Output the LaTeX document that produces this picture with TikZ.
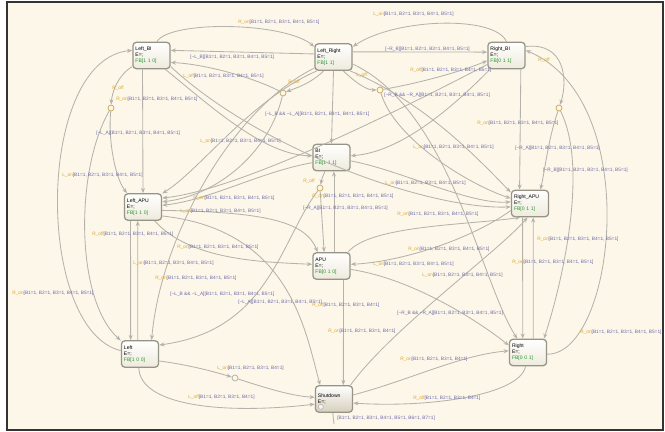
\documentclass[tikz,border=0pt]{standalone}
\usepackage{fontspec}
\setmainfont{Liberation Sans}
\usepackage{tikz}
\usetikzlibrary{arrows.meta, positioning, calc}

\definecolor{paper}{RGB}{253,247,233}
\definecolor{wire}{RGB}{180,178,170}
\definecolor{evt}{RGB}{222,165,40}
\definecolor{cond}{RGB}{105,105,170}
\definecolor{fbk}{RGB}{40,150,40}
\definecolor{edge}{RGB}{150,148,135}
\definecolor{stlow}{RGB}{238,234,220}
\definecolor{sdlow}{RGB}{214,207,188}

\newcommand{\nt}{\textasciitilde}
\newcommand{\bset}{[B1=1, B2=1, B3=1, B4=1, B5=1]}
\newcommand{\bfour}{[B1=1, B2=1, B3=1, B4=1]}
\newcommand{\bseven}{[B1=1, B2=1, B3=1, B4=1, B5=1, B6=1, B7=1]}
\newcommand{\tlab}[2]{\textcolor{evt}{#1}\textcolor{cond}{#2}}

\begin{document}
\begin{tikzpicture}[
    x=0.025cm, y=-0.025cm,
    state/.style={
        rectangle, draw=edge, line width=0.9pt, rounded corners=2.5pt,
        minimum width=0.93cm, minimum height=0.66cm, text width=0.8cm,
        inner xsep=0.065cm, inner ysep=0pt, align=left,
        top color=white, bottom color=stlow,
        font=\fontsize{3.6}{4.3}\selectfont
    },
    trans/.style={draw=wire, line width=0.6pt, -{Stealth[length=1.3mm, width=1mm]}},
    tl/.style={anchor=west, inner sep=0pt, font=\fontsize{3.4}{4}\selectfont},
    junc/.style={circle, draw=evt!60!wire, line width=0.55pt, fill=paper, minimum size=0.15cm, inner sep=0pt},
]
\useasboundingbox (0,0) rectangle (665,432);
\fill[white] (0,0) rectangle (665,432);
\fill[paper] (7,2) rectangle (663,430);
\draw[black!80, line width=0.8pt] (7,2) rectangle (663,430);

% Row 1: bus tie states
\node[state] (lbi) at (151.5,55.5) {Left\_BI\\E=;\\\textcolor{fbk}{FB[1 1 0]}};
\node[state] (lr)  at (333.5,57)   {Left\_Right\\E=;\\\textcolor{fbk}{FB[1 1]}};
\node[state] (rbi) at (506.5,55.5) {Right\_BI\\E=;\\\textcolor{fbk}{FB[0 1 1]}};

% Row 2: middle
\node[state] (bi)   at (331.5,157.5) {BI\\E=;\\\textcolor{fbk}{FB[1 1 1]}};
\node[state] (lapu) at (143,207)     {Left\_APU\\E=;\\\textcolor{fbk}{FB[1 1 0]}};
\node[state] (rapu) at (530,203.5)   {Right\_APU\\E=;\\\textcolor{fbk}{FB[0 1 1]}};
\node[state] (apu)  at (331.5,266)   {APU\\E=;\\\textcolor{fbk}{FB[0 1 0]}};

% Row 3: single sources and shutdown
\node[state] (l)  at (140,354)   {Left\\E=;\\\textcolor{fbk}{FB[1 0 0]}};
\node[state] (r)  at (528,352.5) {Right\\E=;\\\textcolor{fbk}{FB[0 0 1]}};
\node[state, bottom color=sdlow] (sd) at (334,399) {Shutdown\\E=;\\[3pt]};
\draw[wire, fill=white!85!wire] ([shift={(6,-6)}]sd.south west) circle (2.6);

% Junctions
\node[junc] (jl) at (111,108) {};
\node[junc] (j1) at (283,93) {};
\node[junc] (j2) at (380,90) {};
\node[junc] (jr) at (559,108) {};
\node[junc] (jm) at (320,188) {};
\node[junc, draw=wire] (jb) at (235,378) {};

% Top transitions
\draw[trans] (lbi.69) .. controls (170,20) and (285,22) .. (lr.152);
\draw[trans] (lr.171) -- (lbi.15);
\draw[trans] (rbi.90) .. controls (495,15) and (395,18) .. (lr.28);
\draw[trans] (lr.15) -- (rbi.170);
\draw[trans] (rbi.25) .. controls (565,42) and (568,80) .. (jr);
\draw[trans] (jr) .. controls (548,140) and (545,170) .. (rapu.53);
\draw[trans] (jr) .. controls (590,170) and (560,290) .. (r.41);
\draw[trans] (rbi.-44) -- (rapu.127);
\draw[trans] (lbi.-150) .. controls (118,75) and (112,92) .. (jl);
\draw[trans] (jl) .. controls (108,140) and (115,178) .. (lapu.139);
\draw[trans] (jl) .. controls (75,170) and (75,300) .. (l.145);
\draw[trans] (l.170) .. controls (35,330) and (35,60) .. (lbi.165);
\draw[trans] (lbi.-123) -- (lapu.90);
\draw[trans] (lapu.-132) -- (l.124);
\draw[trans] (l.99) -- (lapu.-111);
\draw[trans] (lr.-150) .. controls (230,110) and (160,240) .. (l.50);
\draw[trans] (lr.-125) .. controls (310,84) and (296,88) .. (j1);
\draw[trans] (j1) .. controls (255,78) and (205,64) .. (lbi.-20);
\draw[trans] (j1) .. controls (270,150) and (220,195) .. (lapu.15);
\draw[trans] (lr.-55) .. controls (355,82) and (366,90) .. (j2);
\draw[trans] (j2) .. controls (425,82) and (465,70) .. (rbi.-165);
\draw[trans] (j2) .. controls (395,140) and (470,185) .. (rapu.165);

% Crossing transitions
\draw[trans] (lbi.-45) .. controls (215,110) and (265,155) .. (bi.175);
\draw[trans] (rbi.-140) .. controls (450,110) and (400,152) .. (bi.5);
\draw[trans] (bi.-165) .. controls (260,172) and (210,200) .. (lapu.5);
\draw[trans] (bi.-10) .. controls (400,170) and (470,205) .. (rapu.175);
\draw[trans] (lbi.-30) .. controls (260,150) and (430,210) .. (rapu.-170);
\draw[trans] (rbi.-155) .. controls (400,110) and (240,190) .. (lapu.25);
\draw[trans] (lr.-40) .. controls (420,100) and (470,150) .. (rapu.150);
\draw[trans] (lr.-140) .. controls (250,100) and (200,170) .. (lapu.35);
\draw[trans] (lr.-90) -- (bi.90);
\draw[trans] (lr.-20) .. controls (450,110) and (480,280) .. (r.128);

% Middle transitions
\draw[trans] (bi.-115) .. controls (322,178) .. (jm);
\draw[trans] (jm) -- (apu.118);
\draw[trans] (apu.80) -- (bi.-80);
\draw[trans] (jm) .. controls (280,240) and (270,330) .. (l.25);
\draw[trans] (lapu.-10) .. controls (260,212) and (305,220) .. (apu.135);
\draw[trans] (lapu.-50) .. controls (190,260) and (260,262) .. (apu.175);
\draw[trans] (apu.40) .. controls (370,225) and (470,225) .. (rapu.-125);
\draw[trans] (rapu.-160) .. controls (470,240) and (400,262) .. (apu.5);
\draw[trans] (apu.-10) .. controls (420,280) and (490,330) .. (r.160);
\draw[trans] (rapu.-118) -- (r.111);
\draw[trans] (r.69) -- (rapu.-77);
\draw[trans] (r.-5) .. controls (615,355) and (645,100) .. (rbi.15);

% Shutdown transitions
\draw[trans] (l.-20) .. controls (190,365) and (215,372) .. (jb);
\draw[trans] (jb) .. controls (260,386) and (290,396) .. (sd.175);
\draw[trans] (l.-95) .. controls (140,405) and (220,415) .. (sd.-165);
\draw[trans] (sd.12) .. controls (410,380) and (460,355) .. (r.175);
\draw[trans] (r.-100) .. controls (520,395) and (430,408) .. (sd.-12);
\draw[trans] (apu.-49) -- (sd.56);
\draw[trans] (sd.40) .. controls (390,330) and (500,250) .. (rapu.-100);
\draw[trans] (lapu.-25) .. controls (290,230) and (305,330) .. (sd.135);
\coordinate (sdo) at (334,424);
\draw[wire, line width=0.6pt] (sd.-95) -- (sdo);

% Labels
\node[tl] (lb1)  at (238,22)  {\tlab{R\_on}{\bset}};
\node[tl] (lb2)  at (373,14)  {\tlab{L\_on}{\bset}};
\node[tl] (lb3)  at (190,57)  {\tlab{}{[\nt L\_B]\bset}};
\node[tl] (lb4)  at (385,49)  {\tlab{}{[\nt R\_B]\bset}};
\node[tl] (lb5)  at (183,76)  {\tlab{L\_off}{\bset}};
\node[tl] (lb6)  at (410,70)  {\tlab{R\_off}{\bset}};
\node[tl] (lb7)  at (288,82)  {\tlab{R\_off}{}};
\node[tl] (lb8)  at (356,75)  {\tlab{L\_off}{}};
\node[tl] (lb9)  at (112,88)  {\tlab{R\_off}{}};
\node[tl] (lb10) at (538,60)  {\tlab{R\_off}{}};
\node[tl] (lb11) at (116,99)  {\tlab{R\_on}{\bset}};
\node[tl] (lb12) at (96,133)  {\tlab{}{[\nt L\_A]\bset}};
\node[tl] (lb13) at (265,114) {\tlab{}{[\nt L\_B \&\& \nt L\_A]\bset}};
\node[tl] (lb14) at (384,95)  {\tlab{}{[\nt R\_B \&\& \nt R\_A]\bset}};
\node[tl] (lb15) at (477,123) {\tlab{R\_on}{\bset}};
\node[tl] (lb16) at (515,148) {\tlab{}{[\nt R\_A]\bset}};
\node[tl] (lb17) at (543,170) {\tlab{}{[\nt R\_B]\bset}};
\node[tl] (lb18) at (413,147) {\tlab{L\_on}{\bset}};
\node[tl] (lb19) at (200,141) {\tlab{L\_on}{\bset}};
\node[tl] (lb20) at (62,175)  {\tlab{L\_on}{\bset}};
\node[tl] (lb21) at (385,183) {\tlab{L\_on}{\bset}};
\node[tl] (lb22) at (303,181) {\tlab{R\_off}{}};
\node[tl] (lb23) at (193,198) {\tlab{R\_on}{\bset}};
\node[tl] (lb24) at (312,196) {\tlab{R\_on}{\bset}};
\node[tl] (lb25) at (180,211) {\tlab{L\_on}{\bset}};
\node[tl] (lb26) at (303,208) {\tlab{}{[\nt R\_A]\bset}};
\node[tl] (lb27) at (397,214) {\tlab{R\_on}{\bset}};
\node[tl] (lb28) at (92,234)  {\tlab{R\_off}{\bset}};
\node[tl] (lb29) at (537,239) {\tlab{R\_on}{\bset}};
\node[tl] (lb30) at (177,247) {\tlab{R\_on}{\bset}};
\node[tl] (lb31) at (408,249) {\tlab{R\_on}{\bset}};
\node[tl] (lb32) at (512,262) {\tlab{R\_on}{\bset}};
\node[tl] (lb33) at (133,263) {\tlab{L\_on}{\bset}};
\node[tl] (lb34) at (373,264) {\tlab{L\_on}{\bset}};
\node[tl] (lb35) at (422,275) {\tlab{L\_on}{\bset}};
\node[tl] (lb36) at (155,278) {\tlab{R\_on}{\bset}};
\node[tl] (lb37) at (12,293)  {\tlab{R\_on}{\bset}};
\node[tl] (lb38) at (170,294) {\tlab{}{[\nt L\_B \&\& \nt L\_A]\bset}};
\node[tl] (lb39) at (238,302) {\tlab{}{[\nt L\_A]\bset}};
\node[tl] (lb40) at (312,305) {\tlab{R\_off}{\bfour}};
\node[tl] (lb41) at (328,331) {\tlab{R\_on}{\bfour}};
\node[tl] (lb42) at (397,313) {\tlab{}{[\nt R\_B \&\& \nt R\_A]\bset}};
\node[tl] (lb43) at (580,332) {\tlab{R\_on}{\bset}};
\node[tl] (lb44) at (217,368) {\tlab{L\_on}{\bfour}};
\node[tl] (lb45) at (400,359) {\tlab{R\_on}{\bfour}};
\node[tl] (lb46) at (188,397) {\tlab{L\_off}{\bfour}};
\node[tl] (lb47) at (413,398) {\tlab{R\_off}{\bfour}};
\node[tl] (lb48) at (337,418) {\tlab{}{\bseven}};

\end{tikzpicture}
\end{document}
